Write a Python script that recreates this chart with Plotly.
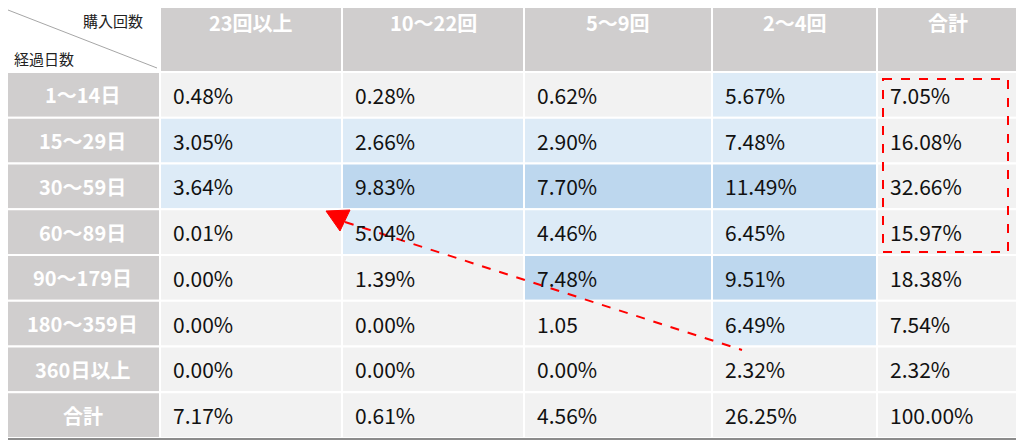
import plotly.graph_objects as go

col_headers = ["23回以上", "10〜22回", "5〜9回", "2〜4回", "合計"]
row_headers = ["1〜14日", "15〜29日", "30〜59日", "60〜89日", "90〜179日", "180〜359日", "360日以上", "合計"]
values = [
    ["0.48%", "0.28%", "0.62%", "5.67%", "7.05%"],
    ["3.05%", "2.66%", "2.90%", "7.48%", "16.08%"],
    ["3.64%", "9.83%", "7.70%", "11.49%", "32.66%"],
    ["0.01%", "5.04%", "4.46%", "6.45%", "15.97%"],
    ["0.00%", "1.39%", "7.48%", "9.51%", "18.38%"],
    ["0.00%", "0.00%", "1.05", "6.49%", "7.54%"],
    ["0.00%", "0.00%", "0.00%", "2.32%", "2.32%"],
    ["7.17%", "0.61%", "4.56%", "26.25%", "100.00%"],
]
# shading level: 0 gray, 1 light blue, 2 blue
shade = [
    [0, 0, 0, 1, 0],
    [1, 1, 1, 1, 0],
    [1, 2, 2, 2, 0],
    [0, 1, 1, 1, 0],
    [0, 0, 2, 2, 0],
    [0, 0, 0, 1, 0],
    [0, 0, 0, 0, 0],
    [0, 0, 0, 0, 0],
]

xe = [5, 160, 342, 524, 712, 877, 1018]
ye = [5, 72] + [72 + 45.75 * (i + 1) for i in range(8)]
fills = {0: "#f2f2f2", 1: "#ddebf7", 2: "#bdd7ee"}
HG = "#d0cece"
FONT = "Noto Sans CJK JP"

shapes, ann = [], []
def rect(x0, y0, x1, y1, fill):
    shapes.append(dict(type="rect", x0=x0, y0=y0, x1=x1, y1=y1, fillcolor=fill,
                       line=dict(color="white", width=2), layer="below"))

rect(xe[0], ye[0], xe[1], ye[1], "white")
shapes.append(dict(type="line", x0=8, y0=10, x1=157, y1=68, line=dict(color="#a6a6a6", width=1)))
ann.append(dict(x=145, y=20, text="購入回数", xanchor="right", showarrow=False, font=dict(size=15, color="#222", family=FONT)))
ann.append(dict(x=12, y=58, text="経過日数", xanchor="left", showarrow=False, font=dict(size=15, color="#222", family=FONT)))
for j, h in enumerate(col_headers):
    rect(xe[j + 1], ye[0], xe[j + 2], ye[1], HG)
    ann.append(dict(x=(xe[j + 1] + xe[j + 2]) / 2, y=22, text="<b>%s</b>" % h, showarrow=False,
                    font=dict(size=20, color="white", family=FONT)))
for i, r in enumerate(row_headers):
    yc = (ye[i + 1] + ye[i + 2]) / 2
    rect(xe[0], ye[i + 1], xe[1], ye[i + 2], HG)
    ann.append(dict(x=(xe[0] + xe[1]) / 2, y=yc, text="<b>%s</b>" % r, showarrow=False,
                    font=dict(size=20, color="white", family=FONT)))
    for j in range(5):
        rect(xe[j + 1], ye[i + 1], xe[j + 2], ye[i + 2], fills[shade[i][j]])
        ann.append(dict(x=xe[j + 1] + 11, y=yc, text=values[i][j], xanchor="left", showarrow=False,
                        font=dict(size=21, color="#111", family=FONT)))

shapes.append(dict(type="rect", x0=3, y0=3, x1=1020, y1=439, line=dict(color="#8c8c8c", width=2), layer="above"))
shapes.append(dict(type="rect", x0=883, y0=79, x1=1008, y1=252, line=dict(color="#ff0000", width=2, dash="dash"), layer="above"))
shapes.append(dict(type="line", x0=345, y0=222, x1=742, y1=350, line=dict(color="#ff0000", width=2, dash="dash"), layer="above"))
shapes.append(dict(type="path", path="M 326 211 L 350 210 L 340 231 Z", fillcolor="#ff0000", line=dict(color="#ff0000", width=1), layer="above"))

fig = go.Figure()
fig.update_layout(width=1024, height=444, margin=dict(l=0, r=0, t=0, b=0),
                  paper_bgcolor="white", plot_bgcolor="white", shapes=shapes, annotations=ann,
                  xaxis=dict(range=[8, 1032], visible=False, fixedrange=True),
                  yaxis=dict(range=[452, 8], visible=False, fixedrange=True), showlegend=False)
fig.write_html("out.html", config={"displayModeBar": False})
